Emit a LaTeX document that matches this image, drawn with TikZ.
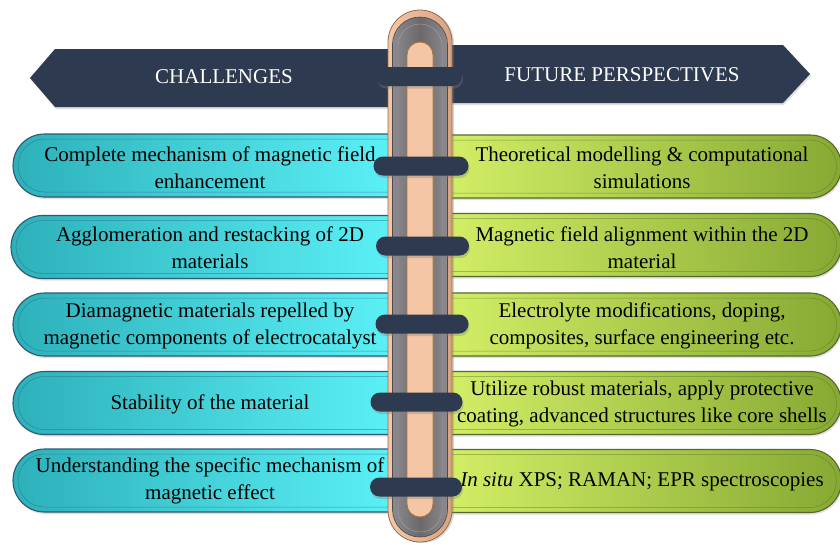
\documentclass[tikz,border=0pt]{standalone}
\usepackage{fontspec}
\setmainfont{Liberation Serif}
\usetikzlibrary{shapes.misc,shadows}
\definecolor{navy}{HTML}{2E3A4F}
\definecolor{cyanL}{HTML}{2DB0BA}
\definecolor{cyanR}{HTML}{5EF5FA}
\definecolor{cyanB}{HTML}{2C5A72}
\definecolor{limeL}{HTML}{D8F36A}
\definecolor{limeR}{HTML}{86A933}
\definecolor{limeB}{HTML}{55692B}
\definecolor{tanA}{HTML}{F3C8A8}
\definecolor{tanB}{HTML}{D9A27F}
\definecolor{tanE}{HTML}{9A6A4C}
\definecolor{grayA}{HTML}{8C8A8E}
\definecolor{grayB}{HTML}{6B696C}
\definecolor{innerT}{HTML}{F5C6A6}
\definecolor{innerB}{HTML}{A8763A}
\begin{document}
\begin{tikzpicture}[x=1pt,y=-1pt,
  leftpill/.style={rounded rectangle, draw=cyanB, line width=1.1pt,
    left color=cyanL, right color=cyanR, minimum width=407pt, minimum height=63pt,
    inner sep=0pt, drop shadow={opacity=0.25,shadow xshift=1pt,shadow yshift=-2pt}},
  leftin/.style={rounded rectangle, draw=cyanB!70!cyanL, line width=0.5pt, opacity=0.7,
    minimum width=397pt, minimum height=53pt, inner sep=0pt},
  rightpill/.style={rounded rectangle, draw=limeB, line width=1.1pt,
    left color=limeL, right color=limeR, minimum width=421pt, minimum height=63pt,
    inner sep=0pt, drop shadow={opacity=0.25,shadow xshift=1pt,shadow yshift=-2pt}},
  rightin/.style={rounded rectangle, draw=limeB!70!limeR, line width=0.5pt, opacity=0.7,
    minimum width=411pt, minimum height=53pt, inner sep=0pt},
  strap/.style={rounded rectangle, fill=navy, minimum height=19pt, inner sep=0pt,
    drop shadow={opacity=0.35,shadow xshift=1pt,shadow yshift=-2.5pt}},
  txt/.style={align=center, text=black, font=\fontsize{21}{27}\selectfont, inner sep=0pt},
  head/.style={text=white, font=\fontsize{21}{24}\selectfont, inner sep=0pt},
  banner/.style={fill=navy, drop shadow={opacity=0.25,shadow xshift=1pt,shadow yshift=-2pt}}
]
\useasboundingbox (0,0) rectangle (840,544);
\fill[white] (0,0) rectangle (840,544);

% header banners
\path[banner] (30,78) -- (55,49) -- (395,49) -- (395,107) -- (55,107) -- cycle;
\path[banner] (445,45) -- (783,45) -- (810,74) -- (783,103) -- (445,103) -- cycle;
\node[head] (hL) at (224,77) {CHALLENGES};
\node[head] (hR) at (622,75) {FUTURE PERSPECTIVES};

% left pills
\node[leftpill] (L1) at (216.5,165.5) {};
\node[leftpill] (L2) at (214.5,247) {};
\node[leftpill] (L3) at (216.5,324.5) {};
\node[leftpill] (L4) at (216.5,403) {};
\node[leftpill] (L5) at (216.5,480.5) {};
\foreach \n in {1,...,5} \node[leftin] (L\n i) at (L\n) {};

% right pills
\node[rightpill] (R1) at (631,166.5) {};
\node[rightpill] (R2) at (631,245) {};
\node[rightpill] (R3) at (631,324.5) {};
\node[rightpill] (R4) at (631,403) {};
\node[rightpill] (R5) at (631,481) {};
\foreach \n in {1,...,5} \node[rightin] (R\n i) at (R\n) {};

% texts
\node[txt] (tL1) at (210,168) {Complete mechanism of magnetic field\\enhancement};
\node[txt] (tL2) at (210,248) {Agglomeration and restacking of 2D\\materials};
\node[txt] (tL3) at (210,326) {Diamagnetic materials repelled by\\magnetic components of electrocatalyst};
\node[txt] (tL4) at (210,404) {Stability of the material};
\node[txt] (tL5) at (210,481) {Understanding the specific mechanism of\\magnetic effect};
\node[txt] (tR1) at (642,168) {Theoretical modelling \& computational\\simulations};
\node[txt] (tR2) at (642,248) {Magnetic field alignment within the 2D\\material};
\node[txt] (tR3) at (642,326) {Electrolyte modifications, doping,\\composites, surface engineering etc.};
\node[txt] (tR4) at (642,404) {Utilize robust materials, apply protective\\coating, advanced structures like core shells};
\node[txt] (tR5) at (642,482) {\textit{In situ} XPS; RAMAN; EPR spectroscopies};

% pole
\draw[tanE, line width=0.8pt, left color=tanA, right color=tanB, rounded corners=32pt,
  drop shadow={opacity=0.3,shadow xshift=2pt,shadow yshift=-1pt}]
  (388,542) rectangle (452,10);
\draw[grayB!70!black, line width=0.6pt, left color=grayA, right color=grayA, middle color=grayB, rounded corners=27.5pt]
  (392.5,537) rectangle (447.5,17);
\draw[grayA!85!white, line width=0.5pt, rounded corners=22pt]
  (398,532) rectangle (442,24);
\draw[innerB, line width=0.8pt, fill=innerT, rounded corners=13pt]
  (407,517) rectangle (433,42);

% straps
\node[strap, minimum width=86pt] (S0) at (419,76.5) {};
\node[strap, minimum width=95pt] (S1) at (421,166) {};
\node[strap, minimum width=93pt] (S2) at (422.5,246) {};
\node[strap, minimum width=93pt] (S3) at (422,324) {};
\node[strap, minimum width=92pt] (S4) at (416.5,402) {};
\node[strap, minimum width=92pt] (S5) at (416,487) {};
\end{tikzpicture}
\end{document}
